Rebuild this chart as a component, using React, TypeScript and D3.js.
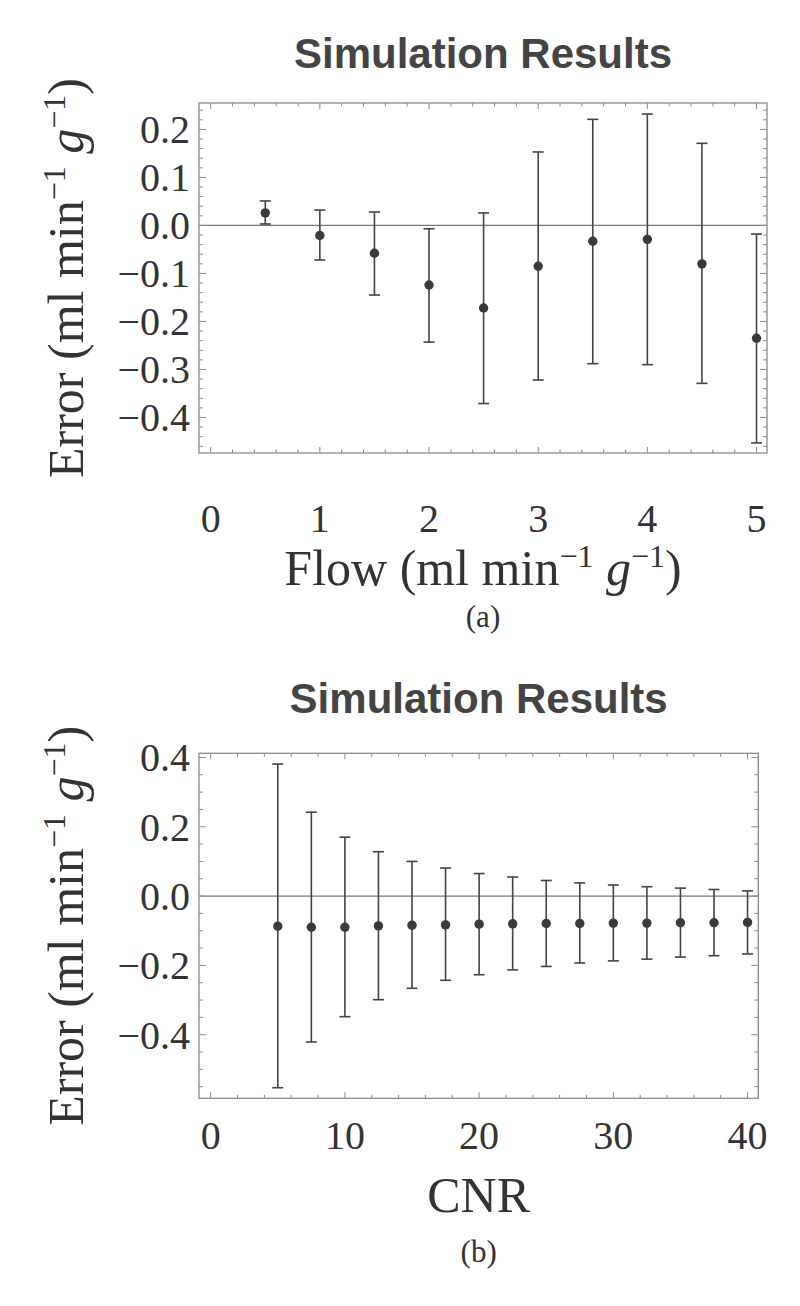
import React from 'react';
import * as d3 from 'd3';

// panel (a): error vs flow
const flowX = [0.5, 1, 1.5, 2, 2.5, 3, 3.5, 4, 4.5, 5];
const flowMean = [0.026, -0.021, -0.058, -0.124, -0.172, -0.085, -0.033, -0.029, -0.08, -0.235];
const flowHi = [0.051, 0.032, 0.028, -0.007, 0.026, 0.153, 0.221, 0.232, 0.171, -0.018];
const flowLo = [0.003, -0.072, -0.145, -0.243, -0.371, -0.322, -0.288, -0.29, -0.329, -0.453];
const flowTicksX = [0, 1, 2, 3, 4, 5];
const flowTicksY = [-0.4, -0.3, -0.2, -0.1, 0, 0.1, 0.2];

// panel (b): error vs CNR
const cnrX = [5, 7.5, 10, 12.5, 15, 17.5, 20, 22.5, 25, 27.5, 30, 32.5, 35, 37.5, 40];
const cnrMean = [-0.087, -0.09, -0.09, -0.086, -0.084, -0.083, -0.081, -0.08, -0.079, -0.079, -0.078, -0.078, -0.077, -0.077, -0.076];
const cnrHi = [0.381, 0.242, 0.17, 0.128, 0.1, 0.081, 0.065, 0.055, 0.045, 0.038, 0.032, 0.027, 0.023, 0.019, 0.015];
const cnrLo = [-0.553, -0.421, -0.348, -0.299, -0.266, -0.243, -0.227, -0.213, -0.203, -0.193, -0.187, -0.182, -0.176, -0.172, -0.167];
const cnrTicksX = [0, 10, 20, 30, 40];
const cnrTicksY = [-0.4, -0.2, 0, 0.2, 0.4];

const serif = '"Liberation Serif", "Times New Roman", serif';
const sans = '"Liberation Sans", Arial, sans-serif';
const frameColor = '#8a8a8a';
const markColor = '#444';

type PanelProps = {
  top: number; bottom: number; left: number; right: number;
  xDomain: [number, number]; yDomain: [number, number];
  xs: number[]; mean: number[]; hi: number[]; lo: number[];
  ticksX: number[]; ticksY: number[]; minorX: number[]; minorY: number[];
  xLabel: React.ReactNode; caption: string;
  titleY: number; tickLabelY: number; xLabelY: number; captionY: number;
};

// " (ml min^-1 g^-1)" with raised exponents
const Unit = () => (
  <>
    {' (ml min'}
    <tspan dy={-18} fontSize={32}>−1</tspan>
    <tspan dy={18}> </tspan>
    <tspan fontStyle="italic">g</tspan>
    <tspan dy={-18} fontSize={32}>−1</tspan>
    <tspan dy={18}>)</tspan>
  </>
);

const Panel = (p: PanelProps) => {
  const x = d3.scaleLinear().domain(p.xDomain).range([p.left, p.right]);
  const y = d3.scaleLinear().domain(p.yDomain).range([p.bottom, p.top]);
  const fy = d3.format('.1f');
  const cx = (p.left + p.right) / 2;
  const cy = (p.top + p.bottom) / 2;
  const cap = 5.5;
  return (
    <g>
      <text x={cx} y={p.titleY} textAnchor="middle" fontFamily={sans} fontWeight="bold"
        fontSize={42} fill="#444">Simulation Results</text>

      {/* zero line */}
      <line x1={p.left} x2={p.right} y1={y(0)} y2={y(0)} stroke="#777" strokeWidth={1.2} />

      {/* ticks, inward on all four sides */}
      <g stroke={frameColor} strokeWidth={1}>
        {p.ticksX.map(t => (
          <g key={'mx' + t}>
            <line x1={x(t)} x2={x(t)} y1={p.bottom} y2={p.bottom - 6} />
            <line x1={x(t)} x2={x(t)} y1={p.top} y2={p.top + 6} />
          </g>
        ))}
        {p.minorX.map(t => (
          <g key={'nx' + t}>
            <line x1={x(t)} x2={x(t)} y1={p.bottom} y2={p.bottom - 3.5} />
            <line x1={x(t)} x2={x(t)} y1={p.top} y2={p.top + 3.5} />
          </g>
        ))}
        {p.ticksY.map(t => (
          <g key={'my' + t}>
            <line x1={p.left} x2={p.left + 7} y1={y(t)} y2={y(t)} />
            <line x1={p.right} x2={p.right - 7} y1={y(t)} y2={y(t)} />
          </g>
        ))}
        {p.minorY.map(t => (
          <g key={'ny' + t}>
            <line x1={p.left} x2={p.left + 4} y1={y(t)} y2={y(t)} />
            <line x1={p.right} x2={p.right - 4} y1={y(t)} y2={y(t)} />
          </g>
        ))}
      </g>
      <rect x={p.left} y={p.top} width={p.right - p.left} height={p.bottom - p.top}
        fill="none" stroke={frameColor} strokeWidth={1.3} />

      {/* tick labels */}
      {p.ticksX.map(t => (
        <text key={'lx' + t} x={x(t)} y={p.tickLabelY} textAnchor="middle" fontFamily={serif}
          fontSize={40} fill="#333">{t}</text>
      ))}
      {p.ticksY.map(t => (
        <text key={'ly' + t} x={p.left - 9} y={y(t)} dy="0.35em" textAnchor="end" fontFamily={serif}
          fontSize={40} fill="#333">{fy(t)}</text>
      ))}

      {/* error bars */}
      <g stroke={markColor} strokeWidth={1.6}>
        {p.xs.map((v, i) => (
          <g key={'e' + i}>
            <line x1={x(v)} x2={x(v)} y1={y(p.lo[i])} y2={y(p.hi[i])} />
            <line x1={x(v) - cap} x2={x(v) + cap} y1={y(p.lo[i])} y2={y(p.lo[i])} />
            <line x1={x(v) - cap} x2={x(v) + cap} y1={y(p.hi[i])} y2={y(p.hi[i])} />
          </g>
        ))}
      </g>
      {p.xs.map((v, i) => (
        <circle key={'p' + i} cx={x(v)} cy={y(p.mean[i])} r={4.7} fill="#3a3a3a" />
      ))}

      {/* axis labels */}
      <text transform={`translate(83,${cy}) rotate(-90)`} textAnchor="middle" fontFamily={serif}
        fontSize={50} fill="#333">Error<Unit /></text>
      <text x={cx} y={p.xLabelY} textAnchor="middle" fontFamily={serif} fontSize={50} fill="#333">
        {p.xLabel}
      </text>
      <text x={cx} y={p.captionY} textAnchor="middle" fontFamily={serif} fontSize={31} fill="#333">
        {p.caption}
      </text>
    </g>
  );
};

export default function App() {
  return (
    <svg width={800} height={1306} style={{ position: 'absolute', left: 0, top: 0, background: '#fff' }}>
      <Panel top={103} bottom={453} left={199} right={767}
        xDomain={[-0.107, 5.096]} yDomain={[-0.474, 0.255]}
        xs={flowX} mean={flowMean} hi={flowHi} lo={flowLo}
        ticksX={flowTicksX} ticksY={flowTicksY}
        minorX={d3.range(0, 5.01, 0.2).filter(t => Math.abs(t - Math.round(t)) > 1e-6)}
        minorY={d3.range(-0.46, 0.25, 0.02).filter(t => Math.abs(t * 10 - Math.round(t * 10)) > 1e-6)}
        xLabel={<>Flow<Unit /></>} caption="(a)"
        titleY={68} tickLabelY={532} xLabelY={585} captionY={627} />
      <Panel top={753.3} bottom={1098.3} left={199} right={758.3}
        xDomain={[-0.87, 40.8]} yDomain={[-0.5835, 0.412]}
        xs={cnrX} mean={cnrMean} hi={cnrHi} lo={cnrLo}
        ticksX={cnrTicksX} ticksY={cnrTicksY}
        minorX={d3.range(2, 40, 2).filter(t => t % 10 !== 0)}
        minorY={d3.range(-0.55, 0.41, 0.05).filter(t => Math.abs(t * 5 - Math.round(t * 5)) > 1e-6)}
        xLabel="CNR" caption="(b)"
        titleY={713} tickLabelY={1149} xLabelY={1212} captionY={1262} />
    </svg>
  );
}
